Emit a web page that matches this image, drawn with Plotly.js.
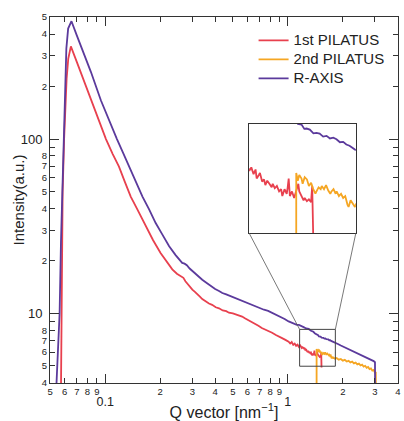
<!DOCTYPE html>
<html><head><meta charset="utf-8">
<script src="https://cdn.plot.ly/plotly-3.0.1.min.js"></script>
<style>html,body{margin:0;padding:0;background:#fff}#chart{width:404px;height:421px}</style>
</head><body><div id="chart"></div>
<script>
// ---- data ----
const rAxisQ = [0.0535,0.0563,0.0573,0.0597,0.0607,0.0613,0.0627,0.0654,0.0700,0.0760,0.0835,0.0947,0.1075,0.116,0.125,0.135,0.147,0.160,0.174,0.189,0.205,0.224,0.243,0.264,0.272,0.28,0.29,0.30,0.313,0.326,0.34,0.355,0.37,0.385,0.40,0.42,0.438,0.46,0.49,0.515,0.54,0.57,0.60,0.63,0.666,0.70,0.74,0.78,0.82,0.865,0.91,0.96,1.01,1.05,1.08,1.12,1.15,1.19,1.22,1.26,1.30,1.34,1.38,1.41,1.43,1.446,1.465,1.48,1.492,1.51,1.53,1.547,1.565,1.585,1.605,1.625,1.645,1.664,1.685,1.705,1.725,1.745,1.765,1.78,1.82,1.88,1.95,2.02,2.10,2.20,2.34,2.47,2.60,2.70,2.80,2.90,2.95,3.0,3.005];
const rAxisI = [3.0,10,26,120,212,330,430,474,392,314,243,167,120,100,84,69.5,57,46.8,39.5,33,28.5,24.3,21.6,19.5,19.3,18.9,18.1,17.5,16.8,16.2,15.6,15.1,14.6,14.2,13.8,13.45,13.1,12.85,12.5,12.25,12.0,11.75,11.5,11.3,11.0,10.8,10.5,10.35,10.1,9.85,9.6,9.3,9.0,8.85,8.8,8.6,8.6,8.4,8.35,8.2,8.15,7.95,7.85,7.66,7.62,7.52,7.50,7.38,7.39,7.36,7.26,7.27,7.25,7.17,7.19,7.12,7.14,7.10,7.02,7.03,6.96,6.93,6.88,6.83,6.80,6.68,6.55,6.44,6.30,6.15,5.96,5.80,5.65,5.55,5.45,5.37,5.33,5.25,3.0];

const pil1Q = [0.0572,0.0578,0.0585,0.0596,0.0606,0.0615,0.0628,0.0649,0.0700,0.0760,0.0830,0.0910,0.101,0.110,0.119,0.128,0.138,0.150,0.167,0.183,0.201,0.216,0.233,0.247,0.260,0.268,0.275,0.288,0.300,0.31,0.32,0.33,0.34,0.355,0.37,0.385,0.403,0.42,0.44,0.46,0.476,0.50,0.52,0.54,0.562,0.585,0.61,0.64,0.666,0.69,0.72,0.75,0.787,0.82,0.86,0.89,0.93,0.97,1.01,1.03,1.05,1.07,1.09,1.11,1.13,1.15,1.17,1.19,1.20,
 1.211,1.220,1.230,1.239,1.244,1.254,1.259,1.269,1.278,1.284,1.293,1.303,1.314,1.319,1.329,1.339,1.350,1.360,1.366,1.377,1.388,1.393,1.398,1.404,1.415,1.426,1.437,1.448,1.453,1.465,1.476,1.482,1.494,1.505,1.517,1.523,1.526,1.529];
const pil1I = [3.0,26,50,100,163,222,289,340,276,219,171,133,100,82,69.5,57,46.8,39.5,31.5,26.3,22.2,19.9,17.9,16.9,16.3,16.0,15.3,14.3,13.7,13.3,12.8,12.5,12.1,11.7,11.4,11.2,10.85,10.7,10.4,10.3,10.1,10.0,9.85,9.8,9.6,9.35,9.15,8.9,8.65,8.5,8.25,8.1,7.92,7.75,7.52,7.42,7.22,7.05,6.88,6.72,6.85,6.6,6.72,6.52,6.62,6.42,6.55,6.36,6.45,
 6.31,6.39,6.23,6.34,6.13,6.21,6.26,6.06,6.11,5.98,6.08,6.01,5.93,6.01,5.91,5.96,5.84,5.89,5.74,5.89,5.79,5.93,6.13,5.74,5.84,5.70,5.86,6.01,5.84,5.74,5.65,5.70,5.63,5.67,5.61,5.96,5.65,4.90];

const pil2Q = [1.437,1.437,1.445,1.453,1.465,1.471,1.482,1.494,1.505,1.517,1.529,1.541,1.547,1.559,1.571,1.577,1.590,1.602,1.615,1.627,1.634,1.646,1.659,1.665,1.679,1.692,1.705,1.718,1.732,1.739,1.752,1.766,1.780,1.786,1.81,1.85,1.90,1.95,2.0,2.05,2.1,2.15,2.2,2.25,2.3,2.35,2.4,2.45,2.5,2.55,2.6,2.65,2.7,2.75,2.8,2.85,2.9,2.95,3.0,3.03,3.04];
const pil2I = [3.0,6.26,6.08,6.21,6.13,6.01,6.16,6.11,5.96,6.03,5.89,5.79,5.84,5.93,5.89,5.96,5.89,5.98,5.86,5.79,5.84,5.89,5.79,5.84,5.74,5.79,5.70,5.74,5.56,5.51,5.65,5.58,5.51,5.56,5.50,5.55,5.43,5.48,5.36,5.42,5.30,5.35,5.24,5.29,5.17,5.22,5.10,5.15,5.03,5.08,4.96,5.01,4.88,4.93,4.80,4.84,4.70,4.74,4.58,4.62,3.0];

const seriesNames = ['1st PILATUS','2nd PILATUS','R-AXIS'];
const seriesColors = ['#e8404e','#f5a623','#5b3a9c'];

// tick labels
const xMinorVals = [0.05,0.06,0.07,0.08,0.09,0.2,0.3,0.4,0.5,0.6,0.7,0.8,0.9,2,3,4];
const xMinorText = ['5','6','7','8','9','2','3','4','5','6','7','8','9','2','3','4'];
const xMajorVals = [0.1,1];
const xMajorText = ['0.1','1'];
const yMinorVals = [4,5,6,7,8,20,30,40,50,60,70,80,200,300,400,500];
const yMinorText = ['4','5','6','7','8','2','3','4','5','6','7','8','2','3','4','5'];
const yUnlabeledVals = [9,90];
const yMajorVals = [10,100];
const yMajorText = ['10','100'];

// zoom region and inset
const zoomBoxQ = [1.16,1.82];
const zoomBoxI = [4.98,8.1];
const insetQ = [1.21,1.786];
const insetI = [5.0,7.52];

// ---- layout helpers ----
const L = Math.log10;
const xRange = [L(0.05)-0.001, L(4)+0.001];
const yRange = [L(4)-0.001, L(500)+0.001];
const insetDomX = [0.572,0.879];
const insetDomY = [0.410,0.708];
const FONT = 'Liberation Sans, Arial, sans-serif';
const ink = '#222';
const axCol = '#333';
const LW = 1.8;

const mainSeries = [[pil1Q,pil1I],[pil2Q,pil2I],[rAxisQ,rAxisI]];
const traces = [];
mainSeries.forEach((s,i)=>{
  traces.push({x:s[0],y:s[1],type:'scatter',mode:'lines',
    name:'<span style="font-size:15px">'+seriesNames[i]+'</span>',
    line:{color:seriesColors[i],width:LW},xaxis:'x',yaxis:'y',hoverinfo:'skip'});
});
mainSeries.forEach((s,i)=>{
  traces.push({x:s[0],y:s[1],type:'scatter',mode:'lines',showlegend:false,
    line:{color:seriesColors[i],width:LW},xaxis:'x3',yaxis:'y3',hoverinfo:'skip'});
});
traces.push({x:[],y:[],type:'scatter',mode:'lines',showlegend:false,xaxis:'x2',yaxis:'y2'});

function insetCornerQ(d){return Math.pow(10, xRange[0]+d*(xRange[1]-xRange[0]));}
function insetCornerI(d){return Math.pow(10, yRange[0]+d*(yRange[1]-yRange[0]));}
const cornerI = insetCornerI(insetDomY[0]);

const baseAxis = {type:'log',showgrid:false,zeroline:false,showline:true,linecolor:axCol,linewidth:1,
  ticks:'inside',tickcolor:axCol,tickwidth:1,mirror:'allticks',tickmode:'array'};

const layout = {
  width:404,height:421,
  margin:{l:50,r:6,t:17,b:38},
  paper_bgcolor:'#fff',plot_bgcolor:'rgba(0,0,0,0)',
  font:{family:FONT,color:ink},
  showlegend:true,
  legend:{x:0.585,y:0.976,xanchor:'left',yanchor:'top',bgcolor:'rgba(0,0,0,0)',
    font:{size:11,family:FONT,color:ink},tracegroupgap:0},
  xaxis:Object.assign({},baseAxis,{range:xRange,tickvals:xMinorVals,ticktext:xMinorText,ticklen:5,
    tickfont:{size:9.5,color:ink},anchor:'y'}),
  yaxis:Object.assign({},baseAxis,{range:yRange,tickvals:yMinorVals,ticktext:yMinorText,ticklen:5,
    tickfont:{size:9.5,color:ink},anchor:'x',
    minor:{tickmode:'array',tickvals:yUnlabeledVals,ticks:'inside',ticklen:5,tickcolor:axCol,tickwidth:1,showgrid:false},
    title:{text:'Intensity(a.u.)',font:{size:15,color:ink},standoff:13}}),
  xaxis2:Object.assign({},baseAxis,{range:xRange,overlaying:'x',anchor:'y2',side:'bottom',
    tickvals:xMajorVals,ticktext:xMajorText,ticklen:9,tickfont:{size:12.5,color:ink},ticklabelstandoff:7,
    title:{text:'Q vector [nm<sup>−1</sup>]',font:{size:16,color:ink},standoff:7}}),
  yaxis2:Object.assign({},baseAxis,{range:yRange,overlaying:'y',anchor:'x2',side:'left',
    tickvals:yMajorVals,ticktext:yMajorText,ticklen:9,tickfont:{size:13,color:ink},ticklabelstandoff:4}),
  xaxis3:{type:'log',domain:insetDomX,anchor:'y3',range:[L(insetQ[0]),L(insetQ[1])],showgrid:false,zeroline:false,
    showline:true,mirror:true,linecolor:axCol,linewidth:1,ticks:'',showticklabels:false},
  yaxis3:{type:'log',domain:insetDomY,anchor:'x3',range:[L(insetI[0]),L(insetI[1])],showgrid:false,zeroline:false,
    showline:true,mirror:true,linecolor:axCol,linewidth:1,ticks:'',showticklabels:false},
  shapes:[
    {type:'rect',xref:'x',yref:'y',x0:zoomBoxQ[0],x1:zoomBoxQ[1],y0:zoomBoxI[0],y1:zoomBoxI[1],line:{color:'#444',width:1}},
    {type:'line',xref:'x',yref:'y',x0:zoomBoxQ[0],y0:zoomBoxI[1],x1:insetCornerQ(insetDomX[0]),y1:cornerI,line:{color:'#555',width:0.8}},
    {type:'line',xref:'x',yref:'y',x0:zoomBoxQ[1],y0:zoomBoxI[1],x1:insetCornerQ(insetDomX[1]),y1:cornerI,line:{color:'#555',width:0.8}}
  ]
};
Plotly.newPlot('chart',traces,layout,{staticPlot:true,displayModeBar:false});
</script></body></html>
